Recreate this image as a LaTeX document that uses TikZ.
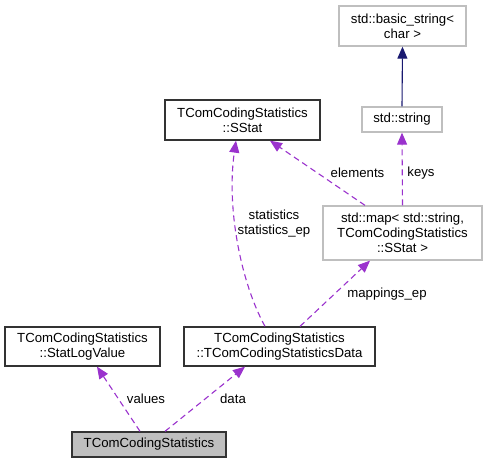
\documentclass[tikz,border=0pt]{standalone}
\usepackage{fontspec}
\setmainfont{Liberation Sans}
\usetikzlibrary{arrows.meta}
\definecolor{purp}{HTML}{9A32CD}
\definecolor{navy}{HTML}{191970}
\definecolor{gborder}{HTML}{BFBFBF}
\definecolor{gfill}{HTML}{BFBFBF}
\definecolor{dborder}{HTML}{333333}
\begin{document}
\begin{tikzpicture}[x=1pt,y=-1pt,
  every node/.style={font=\fontsize{13.2}{15}\selectfont},
  cls/.style={draw=dborder,line width=1.3pt,inner sep=0pt,align=center,anchor=center},
  ext/.style={draw=gborder,line width=1.3pt,inner sep=0pt,align=center,anchor=center},
  usage/.style={draw=purp,dashed,dash pattern=on 6pt off 4pt,line width=1.1pt,
    -{Triangle[length=12pt,width=10pt]}},
  inherit/.style={draw=navy,line width=1.1pt,-{Triangle[length=12pt,width=10pt]}},
  lbl/.style={font=\fontsize{13.2}{15}\selectfont,inner sep=0pt,align=center}]
\useasboundingbox (0,0) rectangle (487,464);
\node[ext,minimum width=127pt,minimum height=40pt] (bs) at (402.5,26) {std::basic\_string<\\char >};
\node[ext,minimum width=80pt,minimum height=25pt] (str) at (402,119.5) {std::string};
\node[cls,minimum width=155pt,minimum height=40pt] (sstat) at (242.5,120) {TComCodingStatistics\\::SStat};
\node[ext,minimum width=159pt,minimum height=54pt] (map) at (402.5,233) {std::map< std::string,\\TComCodingStatistics\\::SStat >};
\node[cls,minimum width=155pt,minimum height=39pt] (slv) at (82.5,346.5) {TComCodingStatistics\\::StatLogValue};
\node[cls,minimum width=191pt,minimum height=39pt] (data) at (279.5,346.5) {TComCodingStatistics\\::TComCodingStatisticsData};
\node[cls,fill=gfill,minimum width=154pt,minimum height=25pt] (tcs) at (149,444.5) {TComCodingStatistics};

\draw[inherit] (str.north) -- (bs.south);
\draw[usage] (map.north) -- (str.south);
\draw[usage] ([xshift=-37.5pt]map.north) -- ([xshift=27.5pt]sstat.south);
\draw[usage] ([xshift=-14.5pt]data.north) .. controls (242,285) and (226,210) .. ([xshift=-6.5pt]sstat.south);
\draw[usage] ([xshift=20.5pt]data.north) -- ([xshift=-32.5pt]map.south);
\draw[usage] ([xshift=-9pt]tcs.north) -- ([xshift=14.5pt]slv.south);
\draw[usage] ([xshift=16pt]tcs.north) -- ([xshift=-34.5pt]data.south);

\node[lbl] (lkeys) at (421,173) {keys};
\node[lbl] (lelem) at (357.5,173) {elements};
\node[lbl] (lstat) at (274,224) {statistics\\statistics\_ep};
\node[lbl] (lmap) at (387,294) {mappings\_ep};
\node[lbl] (lval) at (146,399) {values};
\node[lbl] (ldata) at (233,399) {data};
\end{tikzpicture}
\end{document}
